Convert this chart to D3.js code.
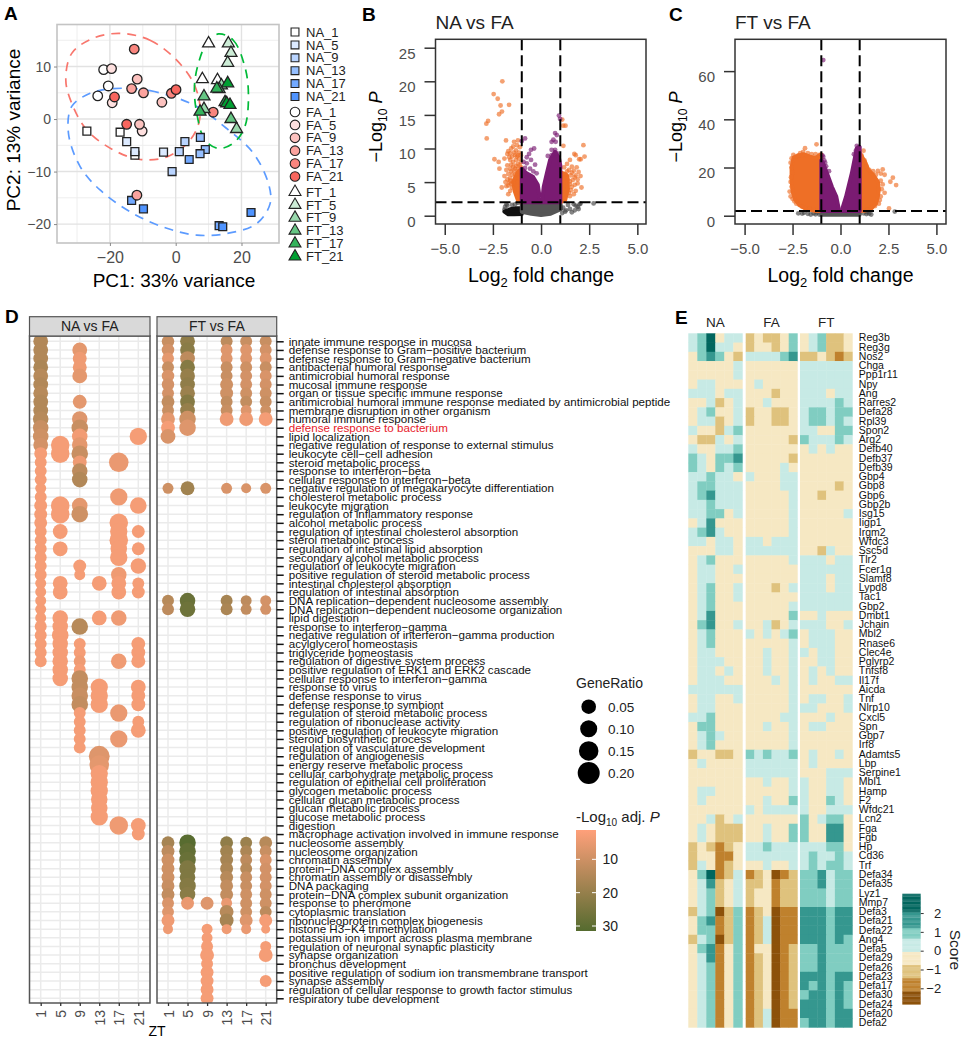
<!DOCTYPE html>
<html>
<head>
<title>Multi-panel figure</title>
<script src="https://d3js.org/d3.v7.min.js"></script>
<style>
body { margin: 0; background: #fff; }
svg { display: block; font-family: "Liberation Sans", Arial, sans-serif; }
</style>
</head>
<body>
<script>
//****PANEL A DATA**** each point is [ZT index, PC1, PC2]
const ztLabels = ['1', '5', '9', '13', '17', '21'];
const naPoints = [[0,-27,-2.3],[0,-16.9,-2.5],[0,-12.4,-6.9],[1,-14.9,-4.3],[1,-12.4,-6.2],[1,-3.7,-6.3],[2,-1.1,-10],[2,2.8,-4.3],[2,1.1,-6.2],[3,7.5,-3.5],[3,9,-5.8],[3,7.4,-6.6],[4,4.1,-7.7],[4,-13.4,-15.5],[4,13.2,-20.3],[5,-9.8,-17.1],[5,22.9,-17.8],[5,14.3,-20.5]];
const faPoints = [[0,-21.9,9.4],[0,-23.7,4.4],[0,-20.5,6.3],[1,-19.5,9.6],[1,-19.3,3.1],[1,-10.2,-2.3],[2,-11.7,7.6],[2,-4.2,3.2],[2,-11,-1],[3,-9.8,5],[3,-13.4,5.8],[3,-11.8,-14.5],[4,-12.6,13.3],[4,-1.3,4.9],[4,11.4,1.3],[5,-18.6,4.2],[5,0.1,5.6],[5,-14.9,-1]];
const ftPoints = [[0,10,14.4],[0,8.1,7.6],[0,12.7,7.4],[1,16,14.4],[1,16.8,12.6],[1,15.8,10.7],[2,8.6,1.9],[2,18.5,-1.9],[2,13.9,6.4],[3,8.6,4.3],[3,13.2,5.7],[3,16.8,0],[4,12.5,5.8],[4,15,3.2],[4,7.4,1.4],[5,15.8,6.8],[5,15.5,3],[5,16.5,2.7]];
const naEllipse = [[-19,5.8],[-7.8,5.4],[5.4,2.7],[15.5,-1.8],[23.6,-6.5],[28.2,-12.3],[28.7,-16.1],[24.6,-19.9],[15.5,-21.8],[6.4,-22.1],[-2.7,-20.8],[-12.9,-18],[-23,-13.5],[-29,-9.1],[-32.6,-2.7],[-31.6,2.4],[-26,4.9]];
const faEllipse = [[-16.9,16.3],[-7.8,15],[0.3,11.2],[5.9,6.2],[7.4,0.4],[4.4,-4],[-2.7,-7.2],[-10.8,-7.7],[-18.9,-5.9],[-27,-2.1],[-31.6,3],[-33.4,7.4],[-31.6,12.5],[-25,15.4]];
const ftEllipse = [[13,16.2],[17.5,15],[21,10],[22.1,4.9],[21,-1.5],[17.5,-4.6],[13,-5.6],[8.9,-4],[6.4,1.1],[5.7,6.2],[6.9,10.6],[9.4,14.4]];

//****PANEL B DATA****
const bOrange = [[-2.01,20],[-2.46,18.1],[-2.25,17.4],[-2.1,16.4],[-1.66,16.5],[-2.03,15.5],[-2.18,15.1],[-2.75,14.1],[-2.84,13.7],[-2.82,11.5],[-1.82,11.2],[-1.4,11],[-1.2,11.2],[-1.25,10.5],[-1.55,10],[-1.45,10.3],[-1.7,9.6],[-1.3,9.7],[-1.75,9.2],[-1.6,9.3],[-1.35,9],[-1.15,9.4],[-2.42,8.4],[-2.2,8],[-1.9,8.5],[-1.6,8.3],[-1.45,8],[-1.3,8.3],[-1.15,8.5],[-1.75,7.5],[-1.55,7.6],[-1.3,7.4],[-2.16,7],[-1.8,6.8],[-1.6,7],[-1.4,6.7],[-1.2,7],[-1.7,6.2],[-1.5,6.1],[-1.25,6.3],[-1.9,5.9],[-1.75,5.4],[-1.6,5.6],[-1.35,5.5],[-1.15,5.6],[-1.85,5],[-1.65,4.9],[-1.4,4.8],[-2.04,4.2],[-1.8,4.4],[-1.5,4.2],[-1.25,4.5],[-1.05,7.2],[-1.05,8],[-1.1,10.2],[-1.05,9],[-1.2,9],[-1.4,9.4],[-1.5,8.8],[-1.25,8.8],[-1.65,8.7],[-1.45,7.3],[-1.2,7.7],[-1.1,7.5],[-1.35,7],[-1.55,6.6],[-1.35,6.1],[-1.15,6.6],[-1.6,5.2],[-1.45,5.1],[-1.7,4.5],[-1.55,4.7],[-1.6,3.7],[-1.7,3.2],
  [1.1,14.3],[1.27,13.4],[1.15,13.4],[1.16,10.4],[2.2,10.5],[1.8,9],[2.26,8.8],[2.06,8.4],[1.73,9.2],[1.5,8.3],[1.35,7.7],[1.98,8.4],[1.6,7.3],[1.85,7.2],[1.2,7.2],[1.45,6.8],[1.7,6.7],[1.95,6.5],[1.25,6.2],[1.55,6],[1.8,6],[2.05,5.9],[1.2,5.6],[1.4,5.4],[1.65,5.3],[1.9,5.4],[1.5,4.7],[1.75,4.6],[1.55,3.8],[1.8,3.7],[1.5,2.9],[1.35,6.6],[1.6,6.4],[1.75,5.7],[1.5,5.1],[1.6,4.3],[1.7,3.2],[1.45,3.4],[1.9,4.8],[2.1,4.2]];
const bPurple = [[-0.83,11.5],[-1,11.1],[-0.36,10],[-0.52,9.8],[-0.62,9.2],[-0.74,8.7],[-0.52,8.3],[-0.31,7.6],[-0.23,6.3],[-0.74,7.8],[-0.91,8],[-0.83,7.1],[-0.57,7],[-0.4,6.6],[0.93,14.9],[0.99,14.4],[0.73,12.3],[0.82,12],[0.55,11],[0.76,11],[0.64,11.3],[0.55,9.8],[0.73,9.8],[0.35,8.9],[0.82,9.3],[0.55,9]];
const bGrey = [[-1.8,1.7],[-1.87,1.3],[-1.9,0.9],[-1.75,1.5],[-1.5,1.6],[-1.35,1.7],[-1.2,1.9],[1.15,1.2],[1.3,0.8],[1.5,1],[1.6,0.5],[1.75,0.8],[1.8,1.5],[1.9,1.3],[1.7,1.7],[2,1.7],[2.05,1.8],[2.73,1.83],[1.4,1.6],[1.25,0.6],[1.1,0.4],[1.95,1]];
// outlines of the areas where the points merge into a solid mass
const bDenseOrange = [[[-1,2],[-1.2,2.3],[-1.35,3.5],[-1.45,5],[-1.2,6.5],[-1,7]], [[1,2],[1.25,2.3],[1.4,4],[1.35,6],[1,6.5]]];
const bDensePurple = [[[-1,2],[-1,7],[-0.75,6.3],[-0.42,5.8],[-0.17,4.6],[-0.07,2.7],[-0.02,2]], [[0.05,2],[0.14,4.3],[0.3,6.3],[0.47,8.3],[0.73,9.5],[0.93,8.6],[1,7.5],[1,2]]];
const bDenseGrey = [[[-1,2],[1,2],[1.05,1],[0.5,0.3],[0,0.1],[-0.5,0.3],[-1,0.6]]];
const bDenseBlack = [[[-1.9,0.6],[-1.6,0.95],[-1.3,1.1],[-1,1.1],[-1,0.25],[-1.4,0.2],[-1.7,0.2]]];

//****PANEL C DATA****
const cOrange = [[-1.25,29.6],[-1.85,28],[-1.95,26.5],[-2,25.2],[-2.46,25.2],[-2.55,23.8],[-2.35,24.5],[-2.2,25],[-2.1,26],[-1.7,26],[-1.5,25.5],[-1.3,25.5],[-1.1,25.2],[-2.6,22],[-2.55,20],[-2.5,18],[-2.58,16],[-2.6,14],[-2.55,12],[-2.65,10],[-2.6,8],[-2.5,7],[-2.4,6],[-2.3,5],[-2.15,4.5],[-2,3.7],[-1.85,3.1],[-1.6,2.8],[-1.4,2.4],[-1.2,2.2],
  [1.2,27],[1.1,25],[1.25,23],[1.35,20.5],[1.5,19],[1.7,18.5],[1.95,18.6],[2.2,19.2],[2.1,17.5],[1.85,17],[2.1,14.5],[2.2,13],[2.15,11],[2.3,9.5],[2.1,8],[2.05,6.5],[2,5],[1.8,4],[1.6,3.2],[2.53,3],[2.73,15.8],[2.6,14.1],[2.9,12.7],[2.3,17],[1.4,2.4]];
const cPurple = [[-0.9,64.6],[-0.9,24.5],[-0.8,22],[-0.75,20.5],[-0.6,18.5],[-0.85,23],[-0.95,25],[0.85,29],[0.95,28.5],[0.8,27],[0.7,25.5]];
const cGrey = [[-2.2,1],[-2,0.9],[-1.9,1.2],[-1.7,0.8],[-1.55,0.5],[-1.4,1],[-1.3,0.6],[-1.2,1.3],[-1.1,0.5],[1.2,1],[1.35,0.7],[1.5,0.9],[1.6,0.5],[1.4,1.4],[2.83,1.7]];
const cDenseOrange = [[[-1,2],[-1.4,2.1],[-1.8,2.9],[-2.1,4.2],[-2.35,6.5],[-2.5,10],[-2.55,15],[-2.55,20],[-2.45,24],[-2.2,25],[-1.9,25.5],[-1.6,24.5],[-1.3,24],[-1,25.5]], [[1,2],[1.3,2.2],[1.6,3],[1.85,5],[1.95,8],[2,11],[1.95,14],[1.7,17],[1.45,19],[1.3,22],[1.15,24],[1,26]]];
const cDensePurple = [[[-1,2],[-0.07,2],[-0.22,7.9],[-0.45,12],[-0.64,16.2],[-0.9,21.7],[-1,23]], [[0.06,2],[0.29,7.9],[0.59,17.6],[0.75,24],[0.85,28],[1,28.5],[1,2]]];
const cDenseGrey = [[[-1,2],[1,2],[1,0.4],[-1,0.4]]];

//****PANEL D DATA****
const goTerms = ['innate immune response in mucosa','defense response to Gram−positive bacterium','defense response to Gram−negative bacterium','antibacterial humoral response','antimicrobial humoral response','mucosal immune response','organ or tissue specific immune response','antimicrobial humoral immune response mediated by antimicrobial peptide','membrane disruption in other organism','humoral immune response','defense response to bacterium','lipid localization','negative regulation of response to external stimulus','leukocyte cell−cell adhesion','steroid metabolic process','response to interferon−beta','cellular response to interferon−beta','negative regulation of megakaryocyte differentiation','cholesterol metabolic process','leukocyte migration','regulation of inflammatory response','alcohol metabolic process','regulation of intestinal cholesterol absorption','sterol metabolic process','regulation of intestinal lipid absorption','secondary alcohol metabolic process','regulation of leukocyte migration','positive regulation of steroid metabolic process','intestinal cholesterol absorption','regulation of intestinal absorption','DNA replication−dependent nucleosome assembly','DNA replication−dependent nucleosome organization','lipid digestion','response to interferon−gamma','negative regulation of interferon−gamma production','acylglycerol homeostasis','triglyceride homeostasis','regulation of digestive system process','positive regulation of ERK1 and ERK2 cascade','cellular response to interferon−gamma','response to virus','defense response to virus','defense response to symbiont','regulation of steroid metabolic process','regulation of ribonuclease activity','positive regulation of leukocyte migration','steroid biosynthetic process','regulation of vasculature development','regulation of angiogenesis','energy reserve metabolic process','cellular carbohydrate metabolic process','regulation of epithelial cell proliferation','glycogen metabolic process','cellular glucan metabolic process','glucan metabolic process','glucose metabolic process','digestion','macrophage activation involved in immune response','nucleosome assembly','nucleosome organization','chromatin assembly','protein−DNA complex assembly','chromatin assembly or disassembly','DNA packaging','protein−DNA complex subunit organization','response to pheromone','cytoplasmic translation','ribonucleoprotein complex biogenesis','histone H3−K4 trimethylation','potassium ion import across plasma membrane','regulation of neuronal synaptic plasticity','synapse organization','bronchus development','positive regulation of sodium ion transmembrane transport','synapse assembly','regulation of cellular response to growth factor stimulus','respiratory tube development'];
// each dot is [term index, gene ratio, -log10 adj. P]
const naDots = [
  [[0,.054,15],[1,.054,15],[2,.054,15],[3,.054,16],[4,.054,14],[5,.054,15],[6,.054,14],[7,.054,15],[8,.054,15],[9,.069,14],[10,.069,11],[11,.069,10],[12,.054,9],[13,.038,3],[14,.031,3],[15,.031,3],[16,.031,3],[17,.024,3],[18,.031,3],[19,.038,3],[20,.038,3],[21,.038,3],[22,.031,3],[23,.031,3],[24,.031,3],[25,.031,3],[26,.031,3],[27,.031,3],[28,.024,3],[29,.024,3],[30,.024,3],[31,.024,3],[32,.024,3],[33,.031,3],[34,.031,3],[35,.031,3],[36,.031,3],[37,.031,3]],
  [[12,.13,3],[13,.13,3],[19,.13,3],[20,.13,3],[22,.054,3],[24,.054,3],[28,.054,3],[29,.054,3],[32,.069,3],[33,.069,3],[34,.09,3],[35,.069,3],[36,.069,3],[37,.069,3],[38,.069,3],[39,.069,3]],
  [[1,.054,6],[2,.045,4],[3,.045,4],[4,.054,6],[7,.045,6],[9,.069,7],[10,.09,11],[11,.069,3.5],[12,.069,6],[13,.09,11],[14,.045,4],[15,.069,13],[16,.069,15],[19,.069,6],[20,.09,10],[26,.038,3],[27,.024,3],[33,.09,14],[35,.031,3],[36,.031,3],[37,.031,4],[38,.031,3],[39,.09,12],[40,.09,12],[41,.09,11],[42,.09,12],[43,.031,3],[44,.031,3],[45,.031,3],[46,.031,3],[47,.031,3]],
  [[28,.054,3],[32,.054,3],[40,.105,3],[41,.105,3],[42,.105,3],[48,.176,7],[49,.15,6],[50,.105,3],[51,.105,3],[52,.105,3],[53,.09,3],[54,.09,3],[55,.105,3]],
  [[14,.15,5],[18,.105,4],[21,.13,3],[22,.105,3],[23,.13,3],[24,.09,3],[25,.105,3],[27,.069,4],[28,.054,3],[29,.054,3],[32,.069,4],[37,.069,4],[43,.105,5],[46,.105,5],[56,.13,4]],
  [[11,.105,3],[19,.09,3],[22,.038,3],[24,.038,3],[26,.069,3],[28,.031,3],[29,.038,3],[35,.045,3],[36,.045,3],[37,.045,3],[40,.054,3],[41,.045,3],[42,.045,3],[44,.031,3],[45,.054,3],[56,.054,3],[57,.038,3]]
];
const ftDots = [
  [[0,.035,11],[1,.035,9],[2,.031,6],[3,.031,11],[4,.035,8],[5,.035,9],[6,.031,9],[7,.038,12],[8,.031,11],[9,.045,6],[10,.045,3],[11,.054,8],[17,.024,10],[30,.031,14],[31,.031,13],[58,.038,17],[59,.038,13],[60,.038,10],[61,.038,10],[62,.038,10],[63,.038,11],[64,.038,12],[65,.031,8],[66,.031,7],[67,.038,4],[68,.017,4]],
  [[0,.054,21],[1,.054,22],[2,.054,13],[3,.054,23],[4,.054,20],[5,.054,21],[6,.054,19],[7,.054,23],[8,.054,20],[9,.09,10],[10,.09,7],[17,.045,18],[30,.069,28],[31,.069,27],[58,.09,31],[59,.09,29],[60,.09,28],[61,.09,24],[62,.069,24],[63,.09,23],[64,.069,22],[65,.038,5]],
  [[65,.038,7],[68,.024,3],[69,.024,3],[70,.031,3],[71,.045,3],[72,.031,3],[73,.038,3],[74,.038,3],[75,.038,3],[76,.038,3]],
  [[0,.031,13],[1,.031,7],[2,.031,7],[3,.031,11],[4,.031,11],[5,.038,10],[6,.038,10],[7,.031,12],[8,.031,11],[9,.045,4],[17,.024,8],[30,.031,17],[31,.031,16],[58,.038,21],[59,.038,18],[60,.038,17],[61,.038,16],[62,.038,14],[63,.038,12],[64,.038,12],[65,.024,5],[66,.045,14],[67,.045,17],[68,.017,4]],
  [[0,.031,11],[1,.031,7],[2,.031,7],[3,.031,10],[4,.031,9],[5,.031,9],[6,.031,10],[7,.031,12],[8,.024,7],[9,.045,4],[17,.017,8],[30,.024,13],[31,.024,12],[58,.031,19],[59,.031,16],[60,.031,13],[61,.031,14],[62,.031,11],[63,.031,11],[64,.031,10],[65,.031,10],[66,.031,10],[67,.038,7],[68,.017,5]],
  [[0,.031,11],[1,.031,9],[2,.031,7],[3,.031,11],[4,.031,8],[5,.031,9],[6,.031,10],[7,.031,11],[8,.024,10],[9,.045,3],[17,.024,8],[30,.024,9],[31,.024,9],[58,.038,14],[59,.031,11],[60,.031,8],[61,.031,9],[62,.031,9],[63,.031,9],[64,.031,10],[65,.031,10],[66,.031,13],[67,.038,3],[68,.01,3],[70,.024,3],[71,.045,3],[74,.031,3]]
];
const ratioTicks = [0.05, 0.10, 0.15, 0.20];
const pTicks = [10, 20, 30];

//****PANEL E DATA****
const genes = ['Reg3b','Reg3g','Nos2','Chga','Ppp1r11','Npy','Ang','Rarres2','Defa28','Rpl39','Spon2','Arg2','Defb40','Defb37','Defb39','Gbp4','Gbp8','Gbp6','Gbp2b','Isg15','Iigp1','Irgm2','Wfdc3','Ssc5d','Tlr2','Fcer1g','Slamf8','Lypd8','Tac1','Gbp2','Dmbt1','Jchain','Mbl2','Rnase6','Clec4e','Pglyrp2','Tnfsf8','Il17f','Aicda','Tnf','Nlrp10','Cxcl5','Spn','Gbp7','Irf8','Adamts5','Lbp','Serpine1','Mbl1','Hamp','F2','Wfdc21','Lcn2','Fga','Fgb','Hp','Cd36','Trf','Defa34','Defa35','Lyz1','Mmp7','Defa3','Defa21','Defa22','Ang4','Defa5','Defa29','Defa26','Defa23','Defa17','Defa30','Defa24','Defa20','Defa2'];
const heatGroups = ['NA', 'FA', 'FT'];
// one letter per cell, one word per group
const scoreByCode = {B: -2.4, o: -1.8, t: -1, c: -0.3, b: 0.3, m: 1, d: 1.7, D: 2.5};
const heatCodes = ['bmDcbb tcttcm cbmttc','bmDbbc tcctcm cbmttc','cmdmct bbbbmd ttctot','cccccb cccccc bbbbbb','cccccb cccccc bbbbbb','cbbccc cbcccc bbbbbb','bbbcbb ccctcc bbbcbb','ccbtcb ccbccc bbbbmb','cbmccb tccttc bmmbmm','cbbtcb tccttc bmmbmb','bcctbm cccccc bbccmm',
'cttbcb ccccct mbbbmb','bccbbm cccccc cbcbcc','mbcmmd ccccct cccccc','mbcmbm ccccbc cccccc','bbmbbc bcccbb cccccc','bmmbbb ccccbb cccctc','bmdbbb cccccb cctccc','bbmbbb cccccb cccccc','bbmmcb cccccb cccccb','cbdccc cccccb cccccc','bmdbcc cccccb cccccc','bbcbbc bbcbbb cccccc','cccbbc bbbbbb cctbcc','cbmccc cccccb bbbcbb','cbbccb cccccc bbbbbb','cbbccc cccccc bbbcbb','cbmccb ccctcb bbbcbb','cbmccb cccccc bbbbbb','cbmccc cccccb bbbbbb','cbdccc cccccm ccbccc','cmdccb ccbtcb bbbccb','cbmccc bcbcbm cbbbcc','cbmccc cccccb cbbbcc','cbbccc ccbccb bcbbcc','cbbbcc ccbccb ccbbcc','cbbcbc ccbccb cbcbcc','cbbbcc cccbcb cbccbb','bbbbbb cccccb cccccc','cbbccb cccccb cbbccb','cbbccc cccccb bbcccb','bbmccc ccccbb cccbcc','cmmccc ccbccb cbbccc','cbmbcc cccccb cccccc','cbmccc cccccb cccccc','tccttc mbmbbm cbccbc','cbcccc bbbbbb cbcccc','cccccc bbbbbb cccbbb','cccccc ccbccb bccbbc','cbbccc cccccb bccbbc','cbcccc ccbccm bccmbc','cccccc bcbbbb bccbbb','ccbtcb cccccc mcbmmc','cbcttt ccbccm mccddc','cbcttt ccbccm mccddc','tctotc bbmbbb bbbmmc','tccooc bbbbbb bmbbmb','tbcotc ccbccb bmbmmb','cmDotb otcBot mmdbmm','cbdtcb ttcott mmdbmm','cbmtcb tccott mmmbmm','cbmtcb tccott mmmbmm','tbmBtm otcBoo dddmdd','cmdotm otbBoo dddmdd','cmmotm otbBoo dddmdd','tbmBtm otbBoo dddmdm','cmdocm occBot mmdmmm','cbdocm otcBot mmdmmm','cbmocm otcBot mmdmmm','cbmocm otcBot dddmdd','cbmocm otcBot dmdmdm','cbmocm otcBot mddmdm','cbmocm otcBot dddmdm','cbmocm otbBoo dddmdd','cbmocm otbBoo mddmdd'];
const scoreTicks = [-2, -1, 0, 1, 2];

//****PANEL LAYOUT****
const svg = d3.select('body').append('svg').attr('width', 965).attr('height', 1038);
const defs = svg.append('defs');

function panelLetter(letter, x, y) {
    svg.append('text').attr('x', x).attr('y', y)
        .style('font-size', '19px').style('font-weight', 'bold').text(letter);
}
panelLetter('A', 4, 20);
panelLetter('B', 362, 21);
panelLetter('C', 669, 21);
panelLetter('D', 5, 323);
panelLetter('E', 675, 324);

//****PANEL A****
const ax = d3.scaleLinear().domain([-36.08, 31.4]).range([57, 279]);
const ay = d3.scaleLinear().domain([-23.6, 18]).range([243, 24.5]);
const aGroup = svg.append('g');

[-30, -10, 10].forEach(v => aGroup.append('line').attr('x1', ax(v)).attr('x2', ax(v)).attr('y1', ay.range()[0]).attr('y2', ay.range()[1]).attr('stroke', '#eee'));
[-15, -5, 5, 15].forEach(v => aGroup.append('line').attr('y1', ay(v)).attr('y2', ay(v)).attr('x1', 57).attr('x2', 279).attr('stroke', '#eee'));
[-20, 0, 20].forEach(v => aGroup.append('line').attr('x1', ax(v)).attr('x2', ax(v)).attr('y1', ay.range()[0]).attr('y2', ay.range()[1]).attr('stroke', '#e2e2e2').attr('stroke-width', 1.4));
[-20, -10, 0, 10].forEach(v => aGroup.append('line').attr('y1', ay(v)).attr('y2', ay(v)).attr('x1', 57).attr('x2', 279).attr('stroke', '#e2e2e2').attr('stroke-width', 1.4));
aGroup.append('rect').attr('x', 57).attr('y', 24.5).attr('width', 222).attr('height', 218.5)
    .attr('fill', 'none').attr('stroke', '#c4c4c4').attr('stroke-width', 1.6);

const aXAxis = aGroup.append('g').attr('transform', 'translate(0,243)')
    .call(d3.axisBottom(ax).tickValues([-20, 0, 20]).tickSize(3).tickPadding(6));
const aYAxis = aGroup.append('g').attr('transform', 'translate(57,0)')
    .call(d3.axisLeft(ay).tickValues([-20, -10, 0, 10]).tickSize(3).tickPadding(3));
[aXAxis, aYAxis].forEach(g => {
    g.select('.domain').remove();
    g.selectAll('line').attr('stroke', '#888');
    g.selectAll('text').attr('fill', '#4d4d4d');
});
aXAxis.selectAll('text').style('font-size', '16px');
aYAxis.selectAll('text').style('font-size', '14px');

aGroup.append('text').attr('x', 174).attr('y', 287).attr('text-anchor', 'middle')
    .style('font-size', '19px').text('PC1: 33% variance');
aGroup.append('text').attr('transform', 'translate(20,130) rotate(-90)').attr('text-anchor', 'middle')
    .style('font-size', '19px').text('PC2: 13% variance');

const ellipseLine = d3.line().x(d => ax(d[0])).y(d => ay(d[1])).curve(d3.curveCatmullRomClosed);
const naBase = '#4f94ff', faBase = '#f8665e', ftBase = '#00a032';
[[naEllipse, '#5c9bff'], [faEllipse, '#f8766d'], [ftEllipse, '#00ba38']].forEach(([pts, col]) => {
    aGroup.append('path').attr('d', ellipseLine(pts)).attr('fill', 'none')
        .attr('stroke', col).attr('stroke-width', 1.7).attr('stroke-dasharray', '9,7');
});

const groupsA = [
    {name: 'NA', pts: naPoints, base: naBase, symbol: d3.symbolSquare, size: 62, top: 32},
    {name: 'FA', pts: faPoints, base: faBase, symbol: d3.symbolCircle, size: 72, top: 112},
    {name: 'FT', pts: ftPoints, base: ftBase, symbol: d3.symbolTriangle, size: 62, top: 192}
];
groupsA.forEach(g => {
    const fill = d3.scaleLinear().domain([0, 5]).range(['#ffffff', g.base]);
    const sym = d3.symbol().type(g.symbol).size(g.size);
    aGroup.selectAll(null).data(g.pts).enter().append('path')
        .attr('d', sym)
        .attr('transform', d => `translate(${ax(d[1])},${ay(d[2])})`)
        .attr('fill', d => fill(d[0]))
        .attr('stroke', '#222').attr('stroke-width', 1.3);
    // legend
    const ly = d3.scaleLinear().domain([0, 5]).range([g.top, g.top + 64.5]);
    ztLabels.forEach((zt, i) => {
        aGroup.append('path').attr('d', sym)
            .attr('transform', `translate(295,${ly(i)})`)
            .attr('fill', fill(i)).attr('stroke', '#222').attr('stroke-width', 1.1);
        aGroup.append('text').attr('x', 306).attr('y', ly(i) + 4.6)
            .style('font-size', '13px').attr('fill', '#222').text(`${g.name}_${zt}`);
    });
});

//****PANELS B AND C****
function logPLabel(g, x, y) {
    const t = g.append('text').attr('transform', `translate(${x},${y}) rotate(-90)`)
        .attr('text-anchor', 'middle').style('font-size', '18px');
    t.append('tspan').text('−Log');
    t.append('tspan').attr('dy', 5).style('font-size', '12px').text('10');
    t.append('tspan').attr('dy', -5).text(' ');
    t.append('tspan').style('font-style', 'italic').text('P');
}

function buildVolcano(o) {
    const g = svg.append('g');
    const x = d3.scaleLinear().domain(o.xDomain).range(o.xRange);
    const y = d3.scaleLinear().domain(o.yDomain).range([224, 39.3]);
    const area = d3.line().x(d => x(d[0])).y(d => y(d[1]));

    function dense(list, col) {
        g.selectAll(null).data(list).enter().append('path')
            .attr('d', d => area(d) + 'Z')
            .attr('fill', col).attr('stroke', col).attr('stroke-width', 4).attr('stroke-linejoin', 'round');
    }
    function scatter(list, col) {
        g.selectAll(null).data(list).enter().append('circle')
            .attr('cx', d => x(d[0])).attr('cy', d => y(d[1])).attr('r', 2.4)
            .attr('fill', col).attr('opacity', 0.65);
    }
    scatter(o.grey, '#444');
    if (o.denseBlack) dense(o.denseBlack, '#111');
    dense(o.denseGrey, '#555');
    dense(o.denseOrange, '#ee6f26');
    scatter(o.orange, '#ee6f26');
    dense(o.densePurple, '#7a1b72');
    scatter(o.purple, '#7a1b72');

    // threshold lines
    [-1, 1].forEach(v => g.append('line').attr('x1', x(v)).attr('x2', x(v)).attr('y1', 39.3).attr('y2', 224)
        .attr('stroke', '#000').attr('stroke-width', 2).attr('stroke-dasharray', '11,5'));
    g.append('line').attr('x1', o.xRange[0]).attr('x2', o.xRange[1]).attr('y1', y(2)).attr('y2', y(2))
        .attr('stroke', '#000').attr('stroke-width', 2).attr('stroke-dasharray', '11,5');

    g.append('rect').attr('x', o.xRange[0]).attr('y', 39.3).attr('width', o.xRange[1] - o.xRange[0]).attr('height', 184.7)
        .attr('fill', 'none').attr('stroke', '#333').attr('stroke-width', 1.5);

    const xAxis = g.append('g').attr('transform', 'translate(0,224)')
        .call(d3.axisBottom(x).tickValues([-5, -2.5, 0, 2.5, 5]).tickFormat(d3.format('.1f')).tickSize(11).tickPadding(8));
    const yAxis = g.append('g').attr('transform', `translate(${o.xRange[0]},0)`)
        .call(d3.axisLeft(y).tickValues(o.yTicks).tickSize(11).tickPadding(9));
    [xAxis, yAxis].forEach(a => {
        a.select('.domain').remove();
        a.selectAll('line').attr('stroke', '#333').attr('stroke-width', 1.5);
        a.selectAll('text').style('font-size', '15px').attr('fill', '#4d4d4d');
    });
    yAxis.selectAll('text').attr('dy', '0.69em');

    g.append('text').attr('x', o.xRange[0]).attr('y', 29).style('font-size', '19px').attr('fill', '#222').text(o.title);
    const cx = x(0);
    const lab = g.append('text').attr('x', cx).attr('y', 282).attr('text-anchor', 'middle').style('font-size', '19.5px');
    lab.append('tspan').text('Log');
    lab.append('tspan').attr('dy', 5).style('font-size', '13px').text('2');
    lab.append('tspan').attr('dy', -5).text(' fold change');
    logPLabel(g, o.labelX, 127);
}

buildVolcano({title: 'NA vs FA', xDomain: [-5.48, 5.45], xRange: [435.5, 646], yDomain: [-1.235, 26.25], yTicks: [0, 5, 10, 15, 20, 25], labelX: 382,
    orange: bOrange, purple: bPurple, grey: bGrey, denseOrange: bDenseOrange, densePurple: bDensePurple, denseGrey: bDenseGrey, denseBlack: bDenseBlack});
buildVolcano({title: 'FT vs FA', xDomain: [-5.5, 5.5], xRange: [735, 946], yDomain: [-3.44, 73.2], yTicks: [0, 20, 40, 60], labelX: 682,
    orange: cOrange, purple: cPurple, grey: cGrey, denseOrange: cDenseOrange, densePurple: cDensePurple, denseGrey: cDenseGrey});

//****PANEL D****
const rowY = d3.scalePoint().domain(goTerms).range([341.3, 998.3]);
const rScale = d3.scaleLinear().domain([0.01, 0.05, 0.2]).range([4.5, 7.3, 11]);
const pColor = d3.scaleLinear().domain([1.2, 31.5]).range(['#ffa07a', '#556b2f']);

function buildFacet(id, title, x0, x1, first, last, columns, withLabels) {
    const g = svg.append('g');
    const x = d3.scalePoint().domain(ztLabels).range([first, last]);
    defs.append('clipPath').attr('id', id).append('rect')
        .attr('x', x0).attr('y', 336).attr('width', x1 - x0).attr('height', 667);

    goTerms.forEach(t => g.append('line').attr('x1', x0).attr('x2', x1).attr('y1', rowY(t)).attr('y2', rowY(t)).attr('stroke', '#ebebeb').attr('stroke-width', 1.5));
    ztLabels.forEach(z => g.append('line').attr('x1', x(z)).attr('x2', x(z)).attr('y1', 336).attr('y2', 1003).attr('stroke', '#ebebeb').attr('stroke-width', 1.5));

    const dots = g.append('g').attr('clip-path', `url(#${id})`);
    const flat = columns.flatMap((col, i) => col.map(d => ({zt: ztLabels[i], row: d[0], ratio: d[1], p: d[2]})));
    flat.sort((a, b) => a.row - b.row);
    dots.selectAll('circle').data(flat).enter().append('circle')
        .attr('cx', d => x(d.zt))
        .attr('cy', d => rowY(goTerms[d.row]))
        .attr('r', d => rScale(d.ratio))
        .attr('fill', d => pColor(d.p));

    g.append('rect').attr('x', x0).attr('y', 336).attr('width', x1 - x0).attr('height', 667)
        .attr('fill', 'none').attr('stroke', '#555').attr('stroke-width', 1.5);
    g.append('rect').attr('x', x0).attr('y', 316.7).attr('width', x1 - x0).attr('height', 19.3)
        .attr('fill', '#d9d9d9').attr('stroke', '#555').attr('stroke-width', 1.2);
    g.append('text').attr('x', (x0 + x1) / 2).attr('y', 331).attr('text-anchor', 'middle')
        .style('font-size', '14px').attr('fill', '#222').text(title);

    const xAxis = g.append('g').attr('transform', 'translate(0,1003)')
        .call(d3.axisBottom(x).tickSize(3));
    xAxis.select('.domain').remove();
    xAxis.selectAll('line').attr('stroke', '#333').attr('stroke-width', 1.3);
    xAxis.selectAll('text').attr('transform', 'rotate(-90)')
        .attr('text-anchor', 'end').attr('x', -7).attr('y', 0).attr('dy', '0.36em')
        .attr('fill', '#4d4d4d').style('font-size', '14px');

    if (withLabels) {
        const yAxis = g.append('g').attr('transform', `translate(${x1},0)`)
            .call(d3.axisRight(rowY).tickSize(7).tickPadding(5));
        yAxis.select('.domain').remove();
        yAxis.selectAll('line').attr('stroke', '#111').attr('stroke-width', 1.5);
        yAxis.selectAll('text').style('font-size', '11.6px')
            .attr('fill', d => d === 'defense response to bacterium' ? '#e8202a' : '#111');
    }
}
buildFacet('clipNA', 'NA vs FA', 29.5, 150, 40.7, 138.3, naDots, false);
buildFacet('clipFT', 'FT vs FA', 157, 276.7, 168, 265.7, ftDots, true);
svg.append('text').attr('x', 157).attr('y', 1036).attr('text-anchor', 'middle').style('font-size', '14px').text('ZT');

// size legend
const legendD = svg.append('g');
legendD.append('text').attr('x', 576).attr('y', 688).style('font-size', '14px').attr('fill', '#222').text('GeneRatio');
const ratioY = d3.scalePoint().domain(ratioTicks).range([706.7, 773]);
ratioTicks.forEach(v => {
    legendD.append('circle').attr('cx', 588.7).attr('cy', ratioY(v)).attr('r', rScale(v)).attr('fill', '#000');
    legendD.append('text').attr('x', 608).attr('y', ratioY(v) + 5).style('font-size', '13.5px').attr('fill', '#222').text(d3.format('.2f')(v));
});

// color legend
const pTitle = legendD.append('text').attr('x', 576).attr('y', 821.5).style('font-size', '15px').attr('fill', '#222');
pTitle.append('tspan').text('-Log');
pTitle.append('tspan').attr('dy', 4).style('font-size', '10px').text('10');
pTitle.append('tspan').attr('dy', -4).text(' adj. ');
pTitle.append('tspan').style('font-style', 'italic').text('P');
const grad = defs.append('linearGradient').attr('id', 'pGrad').attr('x1', 0).attr('x2', 0).attr('y1', 0).attr('y2', 1);
grad.append('stop').attr('offset', '0%').attr('stop-color', pColor.range()[0]);
grad.append('stop').attr('offset', '100%').attr('stop-color', pColor.range()[1]);
legendD.append('rect').attr('x', 576).attr('y', 830).attr('width', 20).attr('height', 101).attr('fill', 'url(#pGrad)');
const pY = d3.scaleLinear().domain([1.2, 31.5]).range([830, 931]);
pTicks.forEach(v => {
    legendD.append('line').attr('x1', 576).attr('x2', 580).attr('y1', pY(v)).attr('y2', pY(v)).attr('stroke', '#fff');
    legendD.append('line').attr('x1', 592).attr('x2', 596).attr('y1', pY(v)).attr('y2', pY(v)).attr('stroke', '#fff');
    legendD.append('text').attr('x', 602.5).attr('y', pY(v) + 5).style('font-size', '14px').attr('fill', '#222').text(v);
});

//****PANEL E****
const scoreColor = d3.scaleThreshold()
    .domain([-2.13, -1.42, -0.7, 0, 0.7, 1.24, 2.1])
    .range(['#8c510a', '#bf812d', '#dfc27d', '#f6e8c3', '#c7eae5', '#80cdc1', '#35978f', '#01665e']);
const heatY = d3.scaleBand().domain(genes).range([333.3, 1027.3]);
const heatX = [
    d3.scaleBand().domain(d3.range(6)).range([688.3, 742.3]),
    d3.scaleBand().domain(d3.range(6)).range([745.7, 797.3]),
    d3.scaleBand().domain(d3.range(6)).range([800, 852.3])
];
const heatG = svg.append('g');
const cells = [];
heatCodes.forEach((row, r) => row.split(' ').forEach((word, gi) => word.split('').forEach((code, c) => {
    cells.push({gene: genes[r], group: gi, col: c, score: scoreByCode[code]});
})));
heatG.selectAll('rect').data(cells).enter().append('rect')
    .attr('x', d => heatX[d.group](d.col))
    .attr('y', d => heatY(d.gene))
    .attr('width', d => heatX[d.group].bandwidth() + 0.4)
    .attr('height', heatY.bandwidth() + 0.4)
    .attr('fill', d => scoreColor(d.score));
heatGroups.forEach((name, i) => {
    const r = heatX[i].range();
    heatG.append('text').attr('x', (r[0] + r[1]) / 2).attr('y', 327).attr('text-anchor', 'middle')
        .style('font-size', '13.5px').attr('fill', '#222').text(name);
});
const geneAxis = heatG.append('g').attr('transform', 'translate(852.3,0)')
    .call(d3.axisRight(heatY).tickSize(0).tickPadding(6.5));
geneAxis.select('.domain').remove();
geneAxis.selectAll('text').style('font-size', '10.5px').attr('fill', '#111');

// score color bar
const barY = d3.scaleLinear().domain([-2.85, 2.96]).range([1004.3, 895]);
const barSteps = d3.range(-2.85, 2.96, 0.14);
heatG.selectAll('.bar').data(barSteps).enter().append('rect').attr('class', 'bar')
    .attr('x', 902.3).attr('width', 18.4)
    .attr('y', d => barY(d + 0.14))
    .attr('height', barY(0) - barY(0.14) + 0.3)
    .attr('fill', (d, i) => d3.interpolateRgb(scoreColor(d + 0.07), '#fff')(i % 2 * 0.1));
const barAxis = heatG.append('g').attr('transform', 'translate(920.7,0)')
    .call(d3.axisRight(barY).tickValues(scoreTicks).tickSize(3).tickFormat(d3.format('d')));
barAxis.select('.domain').remove();
barAxis.selectAll('line').attr('stroke', '#333');
barAxis.selectAll('text').attr('text-anchor', 'end').attr('x', 20.5).style('font-size', '13px').attr('fill', '#222');
heatG.append('text').attr('transform', 'translate(950,950) rotate(90)').attr('text-anchor', 'middle')
    .style('font-size', '15.5px').attr('fill', '#222').text('Score');
</script>
</body>
</html>
